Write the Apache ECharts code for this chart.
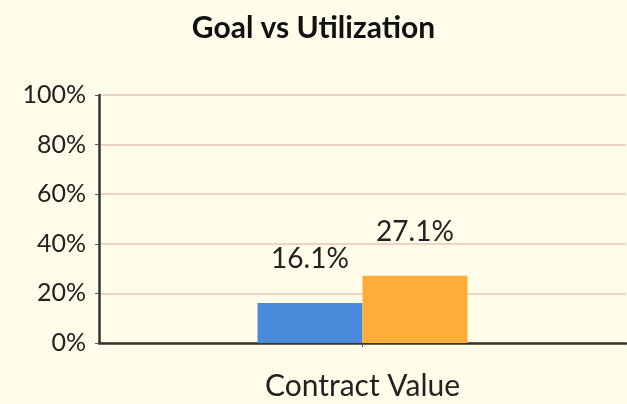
<!DOCTYPE html>
<html>
<head>
<meta charset="utf-8">
<script src="https://cdn.jsdelivr.net/npm/echarts@6/dist/echarts.min.js"></script>
<style>
html,body{margin:0;padding:0;background:#FFFDE9;}
#chart{width:627px;height:404px;}
</style>
</head>
<body>
<div id="chart"></div>
<script>
var categories = ['Contract Value'];
var goalValues = [16.1];
var utilizationValues = [27.1];
var seriesNames = ['Goal', 'Utilization'];
var yTicks = [0, 20, 40, 60, 80, 100];

var chart = echarts.init(document.getElementById('chart'));
var font = 'Lato';
chart.setOption({
  backgroundColor: '#FFFDE9',
  animation: false,
  title: {
    text: 'Goal vs Utilization',
    left: 'center',
    top: 8,
    textStyle: {fontFamily: font, fontWeight: 'bold', fontSize: 30, color: '#111'}
  },
  grid: {left: 99, right: 1, top: 95, bottom: 61, containLabel: false},
  xAxis: {
    type: 'category',
    data: categories,
    axisLine: {lineStyle: {color: '#333', width: 2.5}},
    axisTick: {show: true, length: 4, alignWithLabel: true, lineStyle: {color: '#555'}},
    axisLabel: {fontFamily: font, fontSize: 30, color: '#222', margin: 28}
  },
  yAxis: {
    type: 'value',
    min: yTicks[0],
    max: yTicks[yTicks.length - 1],
    interval: 20,
    axisLine: {show: true, lineStyle: {color: '#333', width: 2.5}},
    axisTick: {show: true, length: 4, lineStyle: {color: '#555'}},
    axisLabel: {fontFamily: font, fontSize: 25, color: '#222', margin: 13, formatter: '{value}%'},
    splitLine: {lineStyle: {color: '#EBD3C6', width: 2}}
  },
  series: [
    {
      name: seriesNames[0], type: 'bar', data: goalValues, barWidth: 105, barGap: '0%',
      itemStyle: {color: '#4A8ADB'},
      label: {show: true, position: 'top', distance: 30, fontFamily: font, fontSize: 28, color: '#222', formatter: function(p){return p.value.toFixed(1) + '%';}}
    },
    {
      name: seriesNames[1], type: 'bar', data: utilizationValues, barWidth: 105, barGap: '0%',
      itemStyle: {color: '#FFAD38'},
      label: {show: true, position: 'top', distance: 30, fontFamily: font, fontSize: 28, color: '#222', formatter: function(p){return p.value.toFixed(1) + '%';}}
    }
  ]
});
</script>
</body>
</html>
